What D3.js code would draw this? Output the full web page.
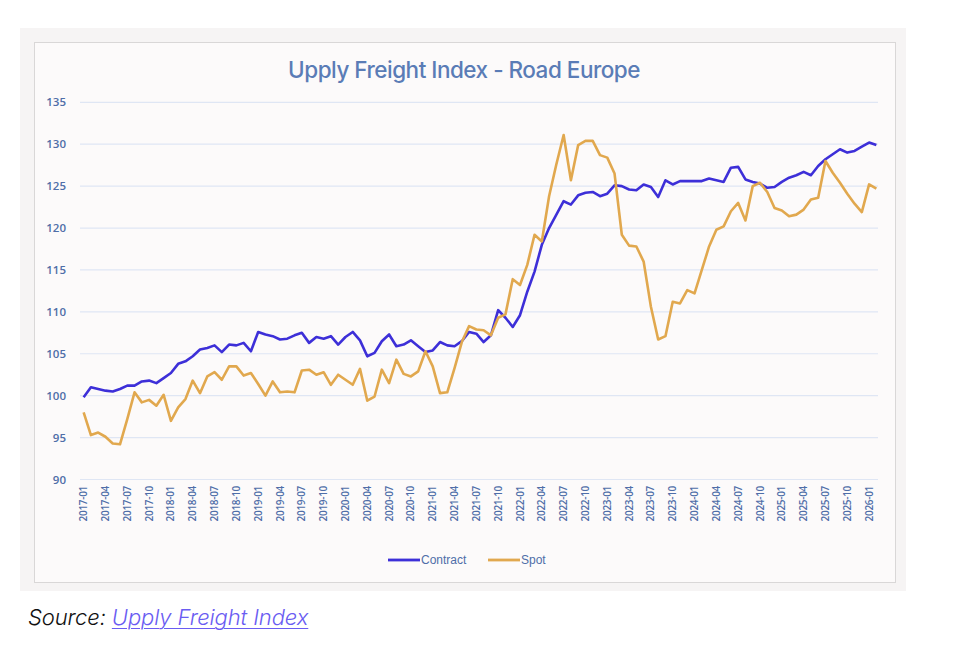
<!DOCTYPE html>
<html>
<head>
<meta charset="utf-8">
<script src="https://d3js.org/d3.v7.min.js"></script>
<style>
  body { margin: 0; background: #ffffff; }
  .source {
    position: absolute; left: 28px; top: 604px;
    font-family: "Inter", "Noto Sans", sans-serif; font-style: italic;
    font-size: 22px; font-weight: 300; color: #111; letter-spacing: -0.1px;
  }
  .source a { color: #6a5cf2; text-decoration: underline; text-underline-offset: 3px; text-decoration-thickness: 1px; }
</style>
</head>
<body>
<div id="chart"></div>
<div class="source">Source: <a href="#">Upply Freight Index</a></div>
<script>
// monthly categories, 2017-01 .. 2026-02
var months = d3.timeMonth.range(new Date(2017, 0, 1), new Date(2026, 2, 1)).map(d3.timeFormat("%Y-%m"));

var contract = [
  99.8, 101.0, 100.8, 100.6, 100.5, 100.8, 101.2, 101.2, 101.7, 101.8, 101.5, 102.1,
  102.7, 103.8, 104.1, 104.7, 105.5, 105.7, 106.0, 105.2, 106.1, 106.0, 106.3, 105.3,
  107.6, 107.3, 107.1, 106.7, 106.8, 107.2, 107.5, 106.3, 107.0, 106.8, 107.1, 106.1,
  107.0, 107.6, 106.6, 104.7, 105.1, 106.5, 107.3, 105.9, 106.1, 106.6, 105.9, 105.2,
  105.4, 106.4, 106.0, 105.9, 106.5, 107.6, 107.4, 106.4, 107.2, 110.2, 109.3, 108.2,
  109.6, 112.4, 114.8, 118.0, 120.0, 121.6, 123.2, 122.8, 123.9, 124.2, 124.3, 123.8,
  124.1, 125.1, 125.0, 124.6, 124.5, 125.2, 124.9, 123.7, 125.7, 125.2, 125.6, 125.6,
  125.6, 125.6, 125.9, 125.7, 125.5, 127.2, 127.3, 125.8, 125.5, 125.3, 124.8, 124.9,
  125.5, 126.0, 126.3, 126.7, 126.3, 127.4, 128.2, 128.8, 129.4, 129.0, 129.2, 129.7,
  130.2, 129.9
];

var spot = [
  98.0, 95.3, 95.6, 95.1, 94.3, 94.2, 97.2, 100.4, 99.2, 99.5, 98.8, 100.1,
  97.0, 98.6, 99.6, 101.8, 100.3, 102.3, 102.8, 101.9, 103.5, 103.5, 102.4, 102.7,
  101.4, 100.0, 101.7, 100.4, 100.5, 100.4, 103.0, 103.1, 102.5, 102.8, 101.3, 102.5,
  101.9, 101.3, 103.2, 99.4, 99.9, 103.1, 101.5, 104.3, 102.6, 102.3, 102.9, 105.3,
  103.5, 100.3, 100.4, 103.3, 106.4, 108.3, 107.9, 107.8, 107.2, 109.3, 109.7, 113.9,
  113.2, 115.6, 119.2, 118.4, 123.8, 127.6, 131.1, 125.7, 129.9, 130.4, 130.4, 128.7,
  128.4, 126.5, 119.2, 117.9, 117.8, 116.0, 110.6, 106.7, 107.1, 111.2, 111.0, 112.6,
  112.2, 115.0, 117.8, 119.8, 120.2, 122.0, 123.0, 120.9, 125.0, 125.4, 124.3, 122.4,
  122.1, 121.4, 121.6, 122.2, 123.4, 123.6, 128.0, 126.6, 125.4, 124.1, 122.9, 121.9,
  125.2, 124.7
];

var yTicks = [90, 95, 100, 105, 110, 115, 120, 125, 130, 135];
var seriesNames = ["Contract", "Spot"];
var seriesColors = ["#3d2fd8", "#e1a84e"];

var width = 956, height = 656;

var svg = d3.select("#chart").append("svg")
    .attr("width", width)
    .attr("height", height)
    .style("display", "block");

// outer panel and chart box
svg.append("rect").attr("x", 20).attr("y", 28).attr("width", 886).attr("height", 563).attr("fill", "#f6f4f4");
svg.append("rect").attr("x", 34.5).attr("y", 42.5).attr("width", 861).attr("height", 540)
    .attr("fill", "#fcfafa").attr("stroke", "#d9d7d7").attr("stroke-width", 1);

var x = d3.scaleBand().domain(months).range([80, 880]).padding(0);
var y = d3.scaleLinear().domain([90, 135]).range([479.5, 102.3]);
var cx = function(d, i) { return x(months[i]) + x.bandwidth() / 2; };

// title
svg.append("text")
    .attr("x", 464).attr("y", 78)
    .attr("text-anchor", "middle")
    .attr("font-family", "Inter, 'Noto Sans', sans-serif")
    .attr("font-size", 22.5)
    .attr("font-weight", 500)
    .attr("letter-spacing", -0.5)
    .attr("fill", "#5a7cb6")
    .text("Upply Freight Index - Road Europe");

// gridlines
svg.append("g").selectAll("line")
    .data(yTicks)
    .enter().append("line")
    .attr("x1", 80).attr("x2", 878)
    .attr("y1", d => y(d)).attr("y2", d => y(d))
    .attr("stroke", "#dfe6f4").attr("stroke-width", 1.2);

// y axis
var yAxis = svg.append("g")
    .attr("transform", "translate(66,0)")
    .call(d3.axisLeft(y).tickValues(yTicks).tickSize(0).tickPadding(0));
yAxis.select(".domain").remove();
yAxis.selectAll("text")
    .attr("font-family", "'Open Sans', sans-serif")
    .attr("font-weight", 600)
    .attr("font-size", 11.5)
    .attr("fill", "#4f6ea8");

// x axis
var xAxis = svg.append("g")
    .attr("transform", "translate(0,486)")
    .call(d3.axisBottom(x).tickValues(months.filter((d, i) => i % 3 === 0)).tickSize(0));
xAxis.select(".domain").remove();
xAxis.selectAll("text")
    .attr("font-family", "'Open Sans', sans-serif")
    .attr("font-weight", 600)
    .attr("font-size", 10)
    .attr("letter-spacing", -0.3)
    .attr("fill", "#4f6ea8")
    .attr("text-anchor", "end")
    .attr("dy", "0.35em")
    .attr("transform", "rotate(-90)")
    .attr("x", 0).attr("y", 0);

// lines
var line = d3.line().x(cx).y(d => y(d));
[contract, spot].forEach(function(s, k) {
  svg.append("path")
      .datum(s)
      .attr("d", line)
      .attr("fill", "none")
      .attr("stroke", seriesColors[k])
      .attr("stroke-width", 2.6)
      .attr("stroke-linejoin", "round");
});

// legend
var legendX = [388, 488];
var legend = svg.append("g").selectAll("g")
    .data(seriesNames)
    .enter().append("g")
    .attr("transform", (d, i) => "translate(" + legendX[i] + ",560)");
legend.append("line")
    .attr("x1", 0).attr("x2", 32)
    .attr("stroke", (d, i) => seriesColors[i])
    .attr("stroke-width", 2.8);
legend.append("text")
    .attr("x", 33).attr("y", 4)
    .attr("font-family", "'Liberation Sans Narrow', 'Liberation Sans', Arial, sans-serif")
    .attr("font-size", 12)
    .attr("fill", "#4f6ea8")
    .text(d => d);
</script>
</body>
</html>
